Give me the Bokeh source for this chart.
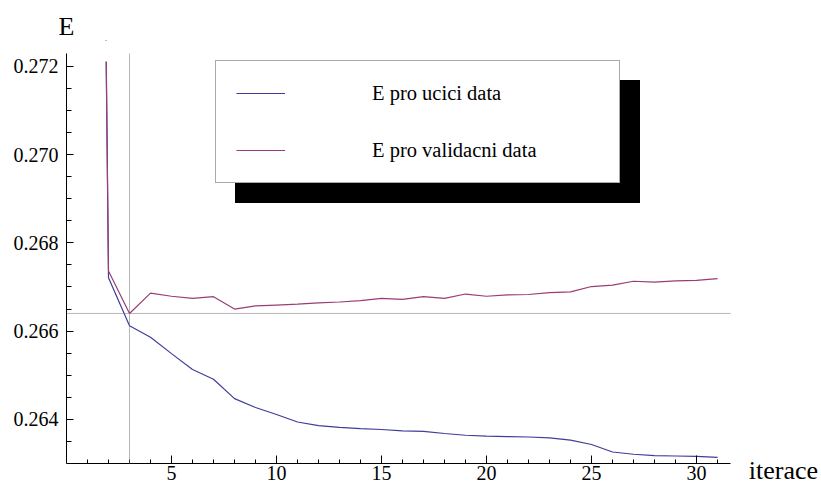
from bokeh.plotting import figure
from bokeh.models import (Range1d, FixedTicker, PrintfTickFormatter, Legend, LegendItem,
                          BoxAnnotation, Title)
from bokeh.embed import file_html
from bokeh.resources import INLINE

# ---------------- data ----------------
iterations = list(range(1, 32))
e_ucici = [0.3115, 0.26721, 0.26612, 0.26586, 0.26549, 0.26513, 0.26491, 0.26447,
           0.26427, 0.26411, 0.26394, 0.26386, 0.26382, 0.26379, 0.26377, 0.26374,
           0.26373, 0.26368, 0.26364, 0.26362, 0.26361, 0.26360, 0.26358, 0.26353,
           0.26343, 0.26326, 0.26321, 0.26318, 0.26317, 0.26316, 0.26314]
e_validacni = [0.3122, 0.26736, 0.26640, 0.26686, 0.26679, 0.26674, 0.26678, 0.26650,
               0.26657, 0.26659, 0.26661, 0.26664, 0.26666, 0.26669, 0.26674, 0.26672,
               0.26678, 0.26674, 0.26684, 0.26679, 0.26682, 0.26683, 0.26687, 0.26689,
               0.26701, 0.26704, 0.26713, 0.26711, 0.26714, 0.26715, 0.26719]
series_labels = ["E pro ucici data", "E pro validacni data"]
x_axis_label = "iterace"
y_axis_label = "E"

x_ticks = [5, 10, 15, 20, 25, 30]
x_minor_ticks = [1, 2, 3, 4, 5, 6, 7, 8, 9, 10, 11, 12, 13, 14, 15, 16, 17, 18, 19, 20,
                 21, 22, 23, 24, 25, 26, 27, 28, 29, 30, 31]
y_ticks = [0.264, 0.266, 0.268, 0.270, 0.272]
y_minor_ticks = [0.2635, 0.264, 0.2645, 0.265, 0.2655, 0.266, 0.2665, 0.267, 0.2675,
                 0.268, 0.2685, 0.269, 0.2695, 0.270, 0.2705, 0.271, 0.2715, 0.272]

# plot range (axes cross at the origin), padded axis ends, clip level of the curves
x_origin, x_start_pad, x_end_pad = 0, -0.62, 31.62
y_origin, y_start_pad, y_end_pad = 0.263, 0.26282, 0.27229
plot_range_top = 0.27211
# visible frame
x_frame_end = 34.14
y_frame_end = 0.272585

# grid lines at the minimum of the validation error
i_min = e_validacni.index(min(e_validacni))
grid_x = iterations[i_min]
grid_y = e_validacni[i_min]

BLUE = "#3F3D99"
RED = "#993D74"
GRID = "#6f6f6f"
FONT = "Liberation Serif"

p = figure(width=821, height=488, title=None,
           x_range=Range1d(x_origin, x_frame_end), y_range=Range1d(y_origin, y_frame_end),
           output_backend="svg", toolbar_location=None,
           min_border_left=66, min_border_right=38, min_border_top=40, min_border_bottom=25)
p.outline_line_color = None
p.xgrid.visible = False
p.ygrid.visible = False
p.background_fill_color = "white"
p.border_fill_color = "white"

# axes
for ax in (p.xaxis[0], p.yaxis[0]):
    ax.axis_line_color = "black"
    ax.axis_line_width = 1
    ax.major_tick_line_color = "black"
    ax.minor_tick_line_color = "black"
    ax.major_tick_out = 0
    ax.minor_tick_out = 0
    ax.major_label_text_font = FONT
    ax.major_label_text_font_size = "20px"
    ax.major_label_text_color = "black"

p.xaxis.bounds = (x_start_pad, x_end_pad)
p.xaxis.ticker = FixedTicker(ticks=x_ticks, minor_ticks=x_minor_ticks)
p.xaxis.major_tick_in = 8
p.xaxis.minor_tick_in = 4
p.xaxis.major_label_standoff = 2
p.xaxis.axis_label = x_axis_label
p.xaxis.axis_label_align = "end"
p.xaxis.axis_label_standoff = -27
p.xaxis.axis_label_text_font = FONT
p.xaxis.axis_label_text_font_size = "26px"
p.xaxis.axis_label_text_font_style = "normal"
p.xaxis.axis_label_text_color = "black"

p.yaxis.bounds = (y_start_pad, y_end_pad)
p.yaxis.ticker = FixedTicker(ticks=y_ticks, minor_ticks=y_minor_ticks)
p.yaxis.formatter = PrintfTickFormatter(format="%.3f")
p.yaxis.major_tick_in = 7
p.yaxis.minor_tick_in = 5
p.yaxis.major_label_standoff = 8

# data
r_ucici = p.line(iterations, e_ucici, line_color=BLUE, line_width=1.2)
r_valid = p.line(iterations, e_validacni, line_color=RED, line_width=1.2)

# clip curves at the plot range top
p.add_layout(BoxAnnotation(left=iterations[0] + 0.5, right=iterations[1] + 0.5,
                           bottom=plot_range_top, fill_color="white", fill_alpha=1,
                           line_alpha=0, level="glyph"))

# grid lines
p.add_layout(BoxAnnotation(left=x_start_pad, right=x_end_pad, bottom=grid_y, top=grid_y,
                           fill_alpha=0, line_color=GRID, line_width=1))
p.add_layout(BoxAnnotation(left=grid_x, right=grid_x, bottom=y_start_pad, top=y_end_pad,
                           fill_alpha=0, line_color=GRID, line_width=1))

# legend shadow + legend
d1 = p.line([], [], line_color="black")
d2 = p.line([], [], line_color="black")
common = dict(glyph_width=49, glyph_height=24, label_height=24, label_width=227,
              label_standoff=87, padding=20, spacing=33, margin=0,
              label_text_font=FONT, label_text_font_size="20.5px")
shadow = Legend(items=[LegendItem(label=series_labels[0], renderers=[d1]),
                       LegendItem(label=series_labels[1], renderers=[d2])],
                location=(169, 260), background_fill_color="black", background_fill_alpha=1,
                border_line_color="black", label_text_color="black", **common)
legend = Legend(items=[LegendItem(label=series_labels[0], renderers=[r_ucici]),
                       LegendItem(label=series_labels[1], renderers=[r_valid])],
                location=(149, 280), background_fill_color="white", background_fill_alpha=1,
                border_line_color="#555555", border_line_width=1,
                label_text_color="black", **common)
p.add_layout(shadow)
p.add_layout(legend)

# y axis label on top of the axis
p.add_layout(Title(text=y_axis_label, align="left", offset=-8, standoff=0,
                   vertical_align="bottom", text_font=FONT, text_font_size="26px",
                   text_font_style="normal", text_color="black"), "above")

open("out.html", "w").write(file_html(p, INLINE))
